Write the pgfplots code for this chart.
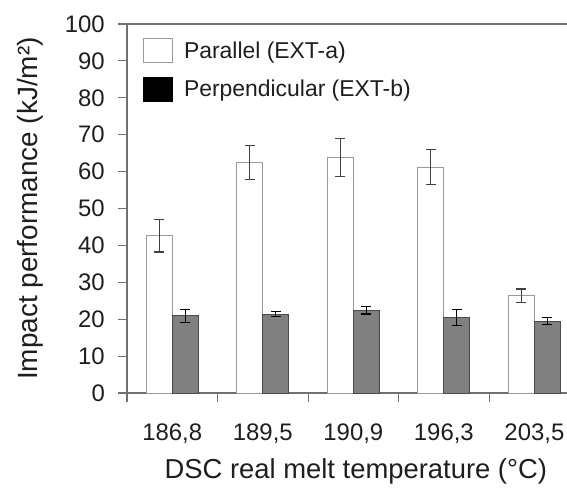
\documentclass[border=0pt]{standalone}
\usepackage{pgfplots}
\pgfplotsset{compat=1.18}
\usepackage{fontspec}
\setmainfont{Liberation Sans}
\definecolor{axgray}{HTML}{707070}
\definecolor{whiteedge}{HTML}{9A9A9A}
\definecolor{barfill}{HTML}{808080}
\definecolor{baredge}{HTML}{4A4A4A}
\definecolor{errcol}{HTML}{404040}
\definecolor{txt}{HTML}{1E1E1E}
\begin{document}
\begin{tikzpicture}
\begin{axis}[name=ax,
  scale only axis, width=440bp, height=369bp,
  xmin=-0.5, xmax=4.36, ymin=0, ymax=100,
  axis x line=box, axis y line=left,
  axis line style={-, draw=axgray, line width=1.3bp},
  tick align=outside, major tick length=9bp,
  tick style={draw=axgray, line width=1.1bp},
  xtick pos=bottom, ytick pos=left,
  ytick={0,10,...,100},
  xtick={-0.5,0.5,1.5,2.5,3.5}, xticklabels={},
  extra x ticks={0,1,2,3,4},
  extra x tick labels={{186,8},{189,5},{190,9},{196,3},{203,5}},
  extra x tick style={major tick length=0pt, xticklabel style={anchor=base, yshift=-47bp}},
  /pgf/number format/assume math mode=true,
  tick label style={font=\fontsize{24}{24}\selectfont, text=txt},
  yticklabel style={anchor=east, inner sep=0pt, xshift=-13bp},
  xlabel={DSC real melt temperature (°C)},
  ylabel={Impact performance (kJ/m²)},
  every axis x label/.style={at={(rel axis cs:0.52,0)}, anchor=base, yshift=-85bp,
     font=\fontsize{27.5}{27.5}\selectfont, text=txt},
  every axis y label/.style={at={(rel axis cs:0,0.5)}, xshift=-110bp, rotate=90, anchor=north, inner sep=0pt,
     font=\fontsize{28}{28}\selectfont, text=txt},
  legend image code/.code={\draw[#1] (0bp,-12bp) rectangle (29bp,12bp); \path (38bp,0bp);},
  legend style={at={(0.036,0.962)}, anchor=north west, draw=none, fill=none, inner sep=0pt,
    font=\fontsize{23}{23}\selectfont, text=txt, row sep=13.5bp},
  legend cell align=left,
]
\addplot[ybar, bar width=0.287, bar shift=0, fill=white, draw=whiteedge, line width=1bp, forget plot,
  error bars/.cd, y dir=both, y explicit,
  error bar style={draw=errcol, line width=1.2bp},
  error mark options={rotate=90, mark size=5bp, draw=errcol, line width=1.2bp}]
  table[x expr=\thisrow{x}-0.1435, y=y, y error=e] {
x y e
0 42.6 4.4
1 62.5 4.6
2 63.8 5.1
3 61.2 4.7
4 26.4 1.8
};
\addplot[ybar, bar width=0.287, bar shift=0, fill=barfill, draw=baredge, line width=1bp, forget plot,
  error bars/.cd, y dir=both, y explicit,
  error bar style={draw=black, line width=1.2bp},
  error mark options={rotate=90, mark size=5bp, draw=black, line width=1.2bp}]
  table[x expr=\thisrow{x}+0.1435, y=y, y error=e] {
x y e
0 20.9 1.7
1 21.4 0.7
2 22.4 1.0
3 20.5 2.1
4 19.5 1.0
};
\addlegendimage{fill=white, draw=whiteedge, line width=1bp}
\addlegendentry{Parallel (EXT-a)}
\addlegendimage{fill=black, draw=black, line width=1bp}
\addlegendentry{Perpendicular (EXT-b)}
\end{axis}
\pgfresetboundingbox
\path ([xshift=-127bp,yshift=-96bp]ax.south west) rectangle ([yshift=24bp]ax.north east);
\end{tikzpicture}
\end{document}
